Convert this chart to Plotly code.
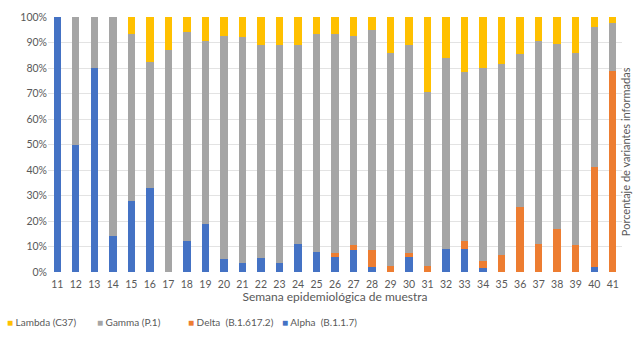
import plotly.graph_objects as go

# Epidemiological weeks (sample week)
weeks = [str(w) for w in range(11, 42)]

# Share of reported variants per week (%)
alpha = [100, 50, 80, 14, 28, 33, 0, 12, 19, 5, 3.5, 5.5, 3.5, 11, 8, 6, 8.5, 2, 0, 6,
         0, 9, 9, 1.5, 0, 0, 0, 0, 0, 2, 0]
delta = [0, 0, 0, 0, 0, 0, 0, 0, 0, 0, 0, 0, 0, 0, 0, 1.5, 2, 6.5, 2.5, 1.5,
         2.5, 0, 3, 3, 6.5, 25.5, 11, 17, 10.5, 39, 79]
gamma = [0, 50, 20, 86, 65.5, 49.5, 87, 82, 71.5, 87.5, 88.5, 83.5, 85.5, 78, 85.5, 86, 82, 86.5, 83.5, 81.5,
         68, 75, 66.5, 75.5, 75, 60, 79.5, 72.5, 75.5, 55, 18.5]
lambda_ = [0, 0, 0, 0, 6.5, 17.5, 13, 6, 9.5, 7.5, 8, 11, 11, 11, 6.5, 6.5, 7.5, 5, 14, 11,
           29.5, 16, 21.5, 20, 18.5, 14.5, 9.5, 10.5, 14, 4, 2.5]

y_ticks = list(range(0, 101, 10))

# stacking order bottom -> top
series = [
    ("Alpha  (B.1.1.7)", alpha, "#4472C4"),
    ("Delta  (B.1.617.2)", delta, "#ED7D31"),
    ("Gamma (P.1)", gamma, "#A5A5A5"),
    ("Lambda (C37)", lambda_, "#FFC000"),
]

FONT = "Lato, 'Open Sans', sans-serif"
TXT = "#595959"

fig = go.Figure()
for name, vals, color in series:
    fig.add_trace(go.Bar(x=weeks, y=vals, name=name, marker_color=color,
                         marker_line_width=0, showlegend=False))

# legend row drawn as text entries (order: Lambda, Gamma, Delta, Alpha)
legend_order = [series[3], series[2], series[1], series[0]]
legend_x = [-0.075, 0.082, 0.24, 0.405]
annotations = []
for (name, _, color), lx in zip(legend_order, legend_x):
    annotations.append(dict(
        x=lx, y=-0.195, xref="paper", yref="paper", xanchor="left", yanchor="middle",
        showarrow=False,
        text=f"<span style='color:{color}'>■</span> {name}",
        font=dict(family=FONT, size=10, color=TXT),
    ))

annotations.append(dict(
    x=1, y=0.47, xref="paper", yref="paper", xshift=3, xanchor="center", yanchor="middle",
    showarrow=False, textangle=-90,
    text="Porcentaje de variantes informadas",
    font=dict(family=FONT, size=11, color=TXT),
))

fig.update_layout(
    barmode="stack",
    bargap=0.6,
    width=633, height=338,
    margin=dict(l=48, r=11, t=14, b=66),
    paper_bgcolor="white", plot_bgcolor="white",
    font=dict(family=FONT, color=TXT),
    annotations=annotations,
    xaxis=dict(
        type="category",
        tickfont=dict(size=10.5, color=TXT),
        ticklabelstandoff=4,
        showgrid=False, showline=False, ticks="",
        title=dict(text="Semana epidemiológica de muestra",
                   font=dict(size=12, color=TXT), standoff=2),
    ),
    yaxis=dict(
        range=[0, 100],
        tickvals=y_ticks,
        ticktext=[f"{t}%" for t in y_ticks],
        tickfont=dict(size=10.5, color=TXT),
        gridcolor="#E3E3E3", gridwidth=1,
        zeroline=False, showline=False, ticks="",
    ),
)

fig.write_html("out.html")
